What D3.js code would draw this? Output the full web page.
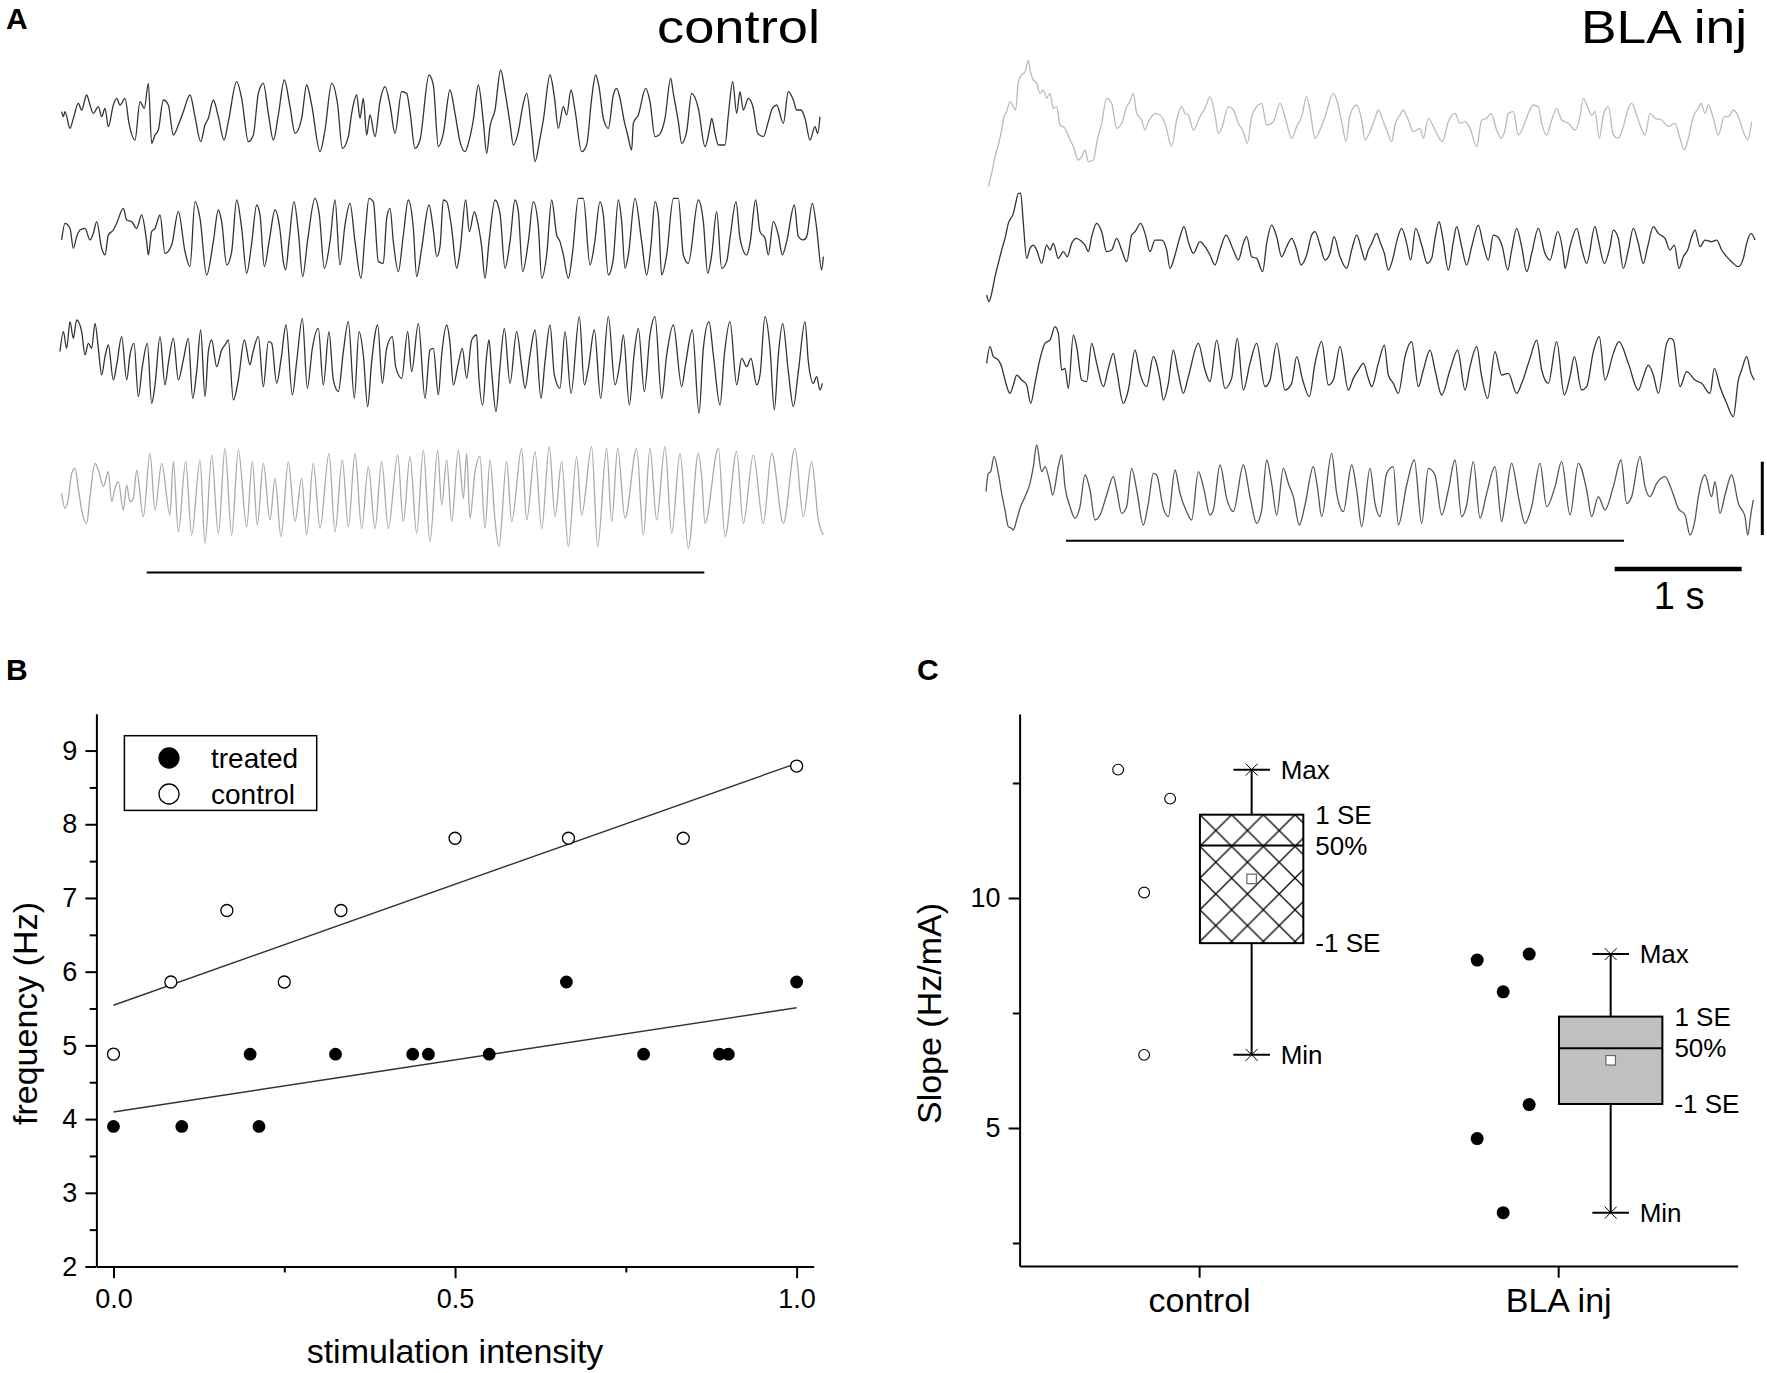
<!DOCTYPE html>
<html><head><meta charset="utf-8">
<script src="https://cdn.jsdelivr.net/npm/d3@7"></script>
<style>
body{margin:0;background:#fff}
svg{display:block}
text{font-family:"Liberation Sans",Arial,Helvetica,sans-serif}
</style></head>
<body><svg id="chart" width="1767" height="1373"></svg>
<script>
// ---------------- DATA ----------------
const FS = 381;               // samples per second of the traces
const SCALE_BAR_UNITS = 220;  // amplitude of the vertical scale bar (trace units)
// traces: flat [sample, amplitude, sample, amplitude, ...]
const ctrlTrace1 = [20,10,25,-5,30,10,45,-40,55,-10,70,35,80,15,95,60,105,30,115,5,130,25,140,-5,150,20,160,-35,175,30,185,50,195,30,210,50,222,-25,240,-75,255,40,268,20,280,95,290,-85,300,-60,310,-45,325,45,340,30,355,-60,370,-30,385,10,405,60,420,-5,437,-80,450,-30,460,-10,475,45,490,-5,507,-75,520,-20,545,100,560,50,580,-80,595,-60,610,65,625,95,640,5,655,-75,670,0,688,105,705,25,720,-55,740,-10,755,90,770,30,795,-110,810,-45,830,95,848,30,862,-100,880,-65,890,5,905,60,915,-10,925,50,935,-60,945,0,960,-65,975,40,990,85,1005,30,1020,-55,1040,70,1055,65,1065,10,1080,-100,1095,-75,1122,120,1135,90,1150,-95,1165,-55,1185,75,1200,5,1215,-80,1230,-110,1240,-85,1255,-15,1270,90,1285,-20,1295,-115,1305,-35,1320,15,1337,135,1350,70,1365,-25,1375,-90,1390,-50,1402,20,1415,65,1430,-50,1440,-140,1455,-70,1465,-15,1485,120,1498,55,1510,-40,1525,25,1535,0,1548,75,1560,15,1580,-110,1595,-90,1610,50,1622,120,1632,85,1645,-10,1660,-40,1675,60,1685,80,1695,50,1708,-20,1718,-60,1730,-105,1735,-25,1750,0,1772,80,1785,40,1800,-65,1812,-60,1830,-10,1847,110,1855,65,1870,-20,1880,-85,1895,-50,1910,65,1930,20,1950,-95,1965,-35,1970,-10,1980,-55,1990,-90,2010,-90,2020,0,2033,100,2045,5,2055,70,2065,15,2080,50,2095,20,2108,-55,2125,-65,2140,-20,2152,20,2165,30,2185,-25,2200,70,2215,45,2225,15,2238,15,2250,-10,2265,-75,2280,-35,2288,-55,2295,-5];
const ctrlTrace2 = [20,-5,30,45,45,30,55,-30,65,5,75,25,90,30,105,-5,115,15,125,50,140,-30,150,-50,160,10,175,25,185,45,205,90,215,55,230,50,245,30,260,70,275,-10,280,-50,290,20,300,30,315,70,330,-45,350,-20,370,80,390,-40,405,-85,420,110,435,60,455,-110,475,-10,490,85,500,50,515,-80,530,-40,545,115,560,30,575,-105,590,-15,605,100,615,70,628,-85,643,-5,660,85,675,25,685,-70,692,-95,702,-10,717,110,730,20,743,-115,758,-5,780,120,793,70,808,-90,825,-10,840,115,855,-80,870,40,885,105,900,-10,918,-120,930,10,942,120,955,110,970,-70,985,-75,995,60,1005,90,1015,-10,1030,-100,1045,10,1060,115,1075,30,1085,-115,1100,-30,1122,100,1135,25,1145,-55,1155,-25,1165,115,1175,110,1190,30,1205,-90,1215,-40,1232,115,1243,20,1258,80,1265,60,1280,-25,1290,-120,1302,-10,1320,115,1335,75,1350,-90,1365,-10,1380,115,1390,80,1403,-100,1420,-10,1435,110,1450,35,1460,-120,1475,-50,1490,115,1505,10,1515,-10,1525,-50,1540,-120,1553,-40,1570,120,1585,120,1605,-80,1618,-20,1635,110,1645,70,1660,-110,1675,-60,1690,115,1700,50,1710,-90,1720,-50,1740,120,1760,-10,1775,-110,1788,-20,1800,110,1810,70,1820,-110,1835,-50,1855,120,1870,120,1885,-50,1900,-75,1930,115,1945,50,1958,-105,1970,-50,1985,80,2000,-90,2015,-70,2025,0,2043,110,2055,0,2075,-50,2085,-15,2102,115,2115,20,2130,0,2140,-50,2155,50,2170,10,2182,-50,2195,-10,2218,100,2230,5,2245,-5,2255,5,2272,105,2285,30,2300,-95,2305,-55];
const ctrlTrace3 = [15,35,25,95,35,45,45,125,55,75,65,130,80,95,90,25,100,60,110,45,120,120,130,45,140,-35,150,20,160,55,175,-50,185,-5,200,80,215,-50,225,25,237,60,250,-100,262,-10,277,60,290,-120,300,-65,315,80,330,-65,340,0,355,75,370,-50,385,10,400,75,413,-105,425,-25,437,100,450,-100,460,35,470,70,485,-10,500,40,510,55,520,70,535,-110,550,-50,568,70,585,-5,592,25,610,80,625,-70,640,65,650,60,665,-60,678,10,693,115,712,-95,725,5,742,135,757,-75,772,45,790,105,805,-65,822,95,835,-50,850,-85,865,35,880,125,898,-105,912,95,925,25,938,-130,950,5,968,115,982,-60,995,45,1012,80,1022,-10,1040,-45,1058,95,1070,-25,1090,120,1110,-105,1125,40,1135,45,1150,-95,1160,25,1175,115,1185,60,1195,-65,1210,0,1222,45,1235,-45,1250,70,1265,85,1270,-15,1283,-125,1295,25,1302,70,1310,-25,1323,-145,1335,-10,1348,105,1365,-60,1385,95,1400,-10,1410,-75,1425,25,1440,100,1458,-105,1470,5,1485,115,1498,-35,1515,-75,1530,95,1548,-90,1573,140,1588,-65,1600,-15,1618,100,1637,-105,1660,140,1680,-65,1695,5,1705,85,1723,-125,1737,25,1750,105,1768,-85,1785,85,1800,140,1820,-105,1835,25,1855,115,1880,-70,1892,0,1912,100,1932,-150,1945,45,1962,125,1975,25,1995,-125,2008,25,2025,125,2045,-65,2060,15,2075,-10,2088,15,2105,-65,2115,-35,2130,140,2145,45,2158,-140,2170,25,2183,120,2200,-25,2215,-130,2230,-25,2250,125,2260,5,2275,-60,2285,-40,2295,-80,2302,-60];
const ctrlTrace4 = [20,10,30,-35,40,-5,50,70,60,85,70,25,80,-40,95,-80,105,0,120,100,130,80,145,30,160,75,170,-15,180,25,190,45,205,-40,215,35,225,-15,235,-5,245,80,265,-60,285,130,300,-40,320,100,345,-55,355,105,370,-105,392,105,410,-115,435,110,450,-140,470,125,490,-110,510,145,530,-115,550,140,575,-90,592,105,607,-85,625,100,645,-70,660,55,678,-120,700,105,720,-75,740,55,755,-115,775,100,795,-95,822,130,840,-105,862,110,880,-90,900,130,920,-95,940,90,960,-95,980,105,1000,-95,1028,125,1045,-75,1065,120,1085,-110,1105,140,1125,-135,1148,140,1160,-25,1175,110,1190,-75,1210,140,1225,-5,1235,130,1245,-65,1260,75,1275,120,1290,-95,1305,110,1320,-70,1332,-150,1355,105,1370,-75,1400,145,1415,-70,1440,135,1460,-95,1483,150,1500,-60,1520,105,1540,-150,1565,120,1580,-55,1610,150,1628,-150,1655,145,1670,-75,1688,145,1710,-65,1745,145,1765,-115,1785,145,1805,-70,1830,150,1850,-110,1875,130,1900,-155,1930,130,1940,60,1950,-80,1990,145,2010,-120,2045,135,2065,-80,2095,125,2125,-80,2150,130,2185,-80,2220,145,2245,-60,2270,105,2290,-70,2305,-115];
const blaTrace1 = [25,-200,35,-160,45,-110,55,-75,65,-30,72,10,80,25,90,55,100,40,107,30,115,115,125,135,135,145,145,180,150,150,160,120,170,110,180,80,190,90,200,65,210,80,220,35,230,40,240,-15,255,-25,268,-55,280,-80,295,-120,305,-110,315,-90,325,-125,340,-120,352,-60,365,-10,380,65,395,50,410,-25,425,-10,440,40,450,55,460,80,470,20,485,0,495,-30,505,-5,515,10,525,20,540,15,555,-10,575,-80,590,0,605,40,615,20,625,15,640,-30,660,10,675,35,690,70,705,15,715,-40,725,-25,745,40,760,30,775,-10,790,-35,802,-70,815,10,830,40,845,50,860,-15,880,-5,900,50,915,10,935,-55,950,-20,965,10,980,70,990,30,1005,-55,1020,-30,1035,10,1060,80,1070,60,1085,-5,1098,-65,1110,15,1130,45,1145,0,1155,-60,1170,-35,1185,5,1195,30,1210,-5,1220,-30,1235,-65,1245,-15,1260,15,1270,30,1285,0,1300,-35,1320,-25,1330,-55,1345,5,1365,-30,1387,-65,1405,-5,1425,20,1440,-10,1455,-5,1470,-25,1490,-80,1505,0,1520,5,1533,20,1550,-30,1563,-55,1575,-30,1585,20,1600,25,1615,-45,1630,-20,1645,20,1660,45,1675,40,1685,-10,1700,-45,1715,0,1730,35,1745,0,1765,-10,1785,-30,1800,10,1810,65,1820,45,1835,15,1845,25,1858,-55,1870,15,1885,40,1900,-45,1915,-55,1930,-20,1945,35,1955,50,1970,15,1980,-15,1995,-45,2010,20,2025,5,2045,0,2065,-20,2085,-10,2100,-55,2113,-90,2125,-55,2140,10,2155,35,2163,50,2175,20,2185,45,2200,5,2215,-45,2233,10,2245,10,2260,30,2275,10,2290,-35,2303,-60,2315,-5];
const blaTrace2 = [20,-145,27,-165,35,-140,45,-90,55,-50,65,-10,75,25,85,70,100,100,108,135,115,160,122,160,130,70,140,-35,150,-5,160,5,170,-10,185,-50,200,5,210,-10,220,10,235,-35,250,-15,262,-30,275,10,290,25,305,15,315,5,325,-15,335,30,350,70,365,45,380,-15,395,-10,410,25,425,-10,440,-45,455,35,465,45,482,70,495,40,510,-15,525,20,545,20,560,-10,570,-65,585,-25,600,30,612,60,625,15,640,-20,660,15,675,0,690,-25,705,-55,720,-10,738,35,760,-10,775,-40,790,10,800,30,815,-30,830,-35,848,-75,860,10,875,65,890,30,905,-30,920,0,935,25,950,-10,963,-55,980,-25,995,35,1005,45,1020,5,1035,-40,1050,-20,1062,30,1080,-30,1100,-65,1115,-10,1130,35,1145,-10,1155,-40,1165,-10,1175,10,1190,40,1200,15,1213,-20,1225,-70,1240,-30,1250,15,1265,55,1280,10,1292,-40,1307,55,1325,5,1342,-50,1355,-35,1365,25,1377,75,1387,35,1405,-70,1420,15,1430,60,1445,0,1460,-55,1475,0,1495,65,1510,5,1525,-40,1540,35,1553,30,1567,0,1583,-70,1595,-10,1610,55,1625,0,1640,-75,1655,-20,1675,55,1695,-20,1710,-40,1733,45,1750,-25,1755,-65,1770,0,1790,55,1805,-5,1820,-50,1845,60,1855,20,1873,-50,1890,0,1900,50,1915,25,1930,-65,1945,-10,1960,55,1975,10,1990,-50,2003,0,2020,60,2035,40,2055,25,2070,-10,2083,5,2097,-65,2110,-30,2123,-10,2135,30,2145,50,2160,0,2175,20,2195,15,2210,20,2225,-10,2240,-30,2255,-45,2275,-60,2290,-35,2300,10,2313,40,2325,20];
const blaTrace3 = [20,10,30,60,40,30,55,20,65,0,75,-40,90,-80,100,-55,110,-25,125,-40,140,-55,152,-110,165,-50,178,15,195,70,210,80,225,120,235,100,245,-10,255,-5,265,-65,280,95,290,60,305,-40,320,-45,335,70,350,10,370,-60,385,-5,400,40,410,-10,430,-110,445,-70,465,50,480,-20,500,-60,520,30,540,-40,550,-100,565,-50,580,50,595,-20,610,-80,625,-30,655,70,675,-10,690,-45,710,80,735,-65,755,-35,772,85,790,-70,810,10,830,70,855,-60,870,-40,890,70,915,-70,935,-50,950,30,968,-40,988,-90,1005,10,1025,75,1045,-55,1060,-40,1080,60,1105,-70,1120,-35,1135,-10,1150,10,1165,-35,1175,-60,1195,10,1213,65,1225,-25,1240,-50,1255,-80,1275,30,1295,75,1315,-60,1330,-10,1350,50,1365,-10,1385,-85,1410,-10,1433,50,1455,-70,1470,0,1490,60,1505,-30,1523,-95,1545,45,1565,-25,1585,-20,1610,-80,1625,-50,1650,25,1670,80,1685,-10,1705,-50,1730,75,1753,-85,1770,-30,1783,30,1805,-70,1820,-60,1840,45,1858,90,1875,-40,1900,40,1917,75,1945,10,1975,-70,1990,-30,2005,5,2020,-25,2035,-80,2060,70,2070,85,2080,80,2100,-60,2120,-15,2145,-40,2165,-50,2190,-80,2203,-5,2220,-60,2240,-110,2260,-150,2275,-40,2285,-10,2300,30,2313,-20,2323,-40];
const blaTrace4 = [18,-5,25,50,32,55,42,100,55,50,65,-10,75,-60,85,-110,95,-115,100,-120,110,-90,120,-55,135,-20,150,20,160,70,170,135,185,55,195,70,210,20,218,-15,235,70,245,105,255,10,270,-50,285,-85,300,-50,315,45,330,0,345,-90,360,-75,380,-15,400,40,410,0,425,-70,440,-50,455,65,470,0,490,-105,505,-40,520,50,530,45,550,-55,565,-80,585,60,600,-10,620,-65,635,-90,655,55,670,10,690,-75,700,-60,720,75,740,-25,760,-65,790,75,810,-20,830,-100,845,-60,860,90,875,20,890,-75,910,65,925,20,940,-20,958,-105,975,-45,1000,70,1012,10,1025,-80,1055,110,1070,-10,1090,-65,1115,75,1130,0,1145,-110,1170,65,1185,-40,1200,-80,1220,50,1240,70,1255,-105,1280,15,1303,90,1325,-100,1345,65,1365,45,1385,-75,1405,0,1425,90,1445,-80,1460,-45,1480,85,1500,-85,1520,-10,1545,70,1565,-95,1575,-40,1595,80,1617,-30,1635,-100,1655,-50,1680,80,1700,-50,1725,10,1745,85,1770,-75,1795,80,1820,0,1835,-80,1855,-20,1875,-60,1900,10,1923,90,1940,-40,1955,-20,1980,100,1995,10,2010,-20,2030,20,2055,40,2075,0,2095,-55,2115,-75,2130,-135,2145,-90,2155,-20,2175,45,2195,-20,2205,25,2220,-70,2235,-15,2255,45,2275,-40,2295,-80,2303,-135,2313,-70,2320,-30];
const stimCtrl = [275, 1948];   // stimulation period (samples)
const stimBLA  = [258, 1932];
const timeBarStart = 1904;      // samples

// Panel B
const intensityTreated = [0, 0.1, 0.2, 0.213, 0.325, 0.438, 0.461, 0.55, 0.663, 0.776, 0.887, 0.9, 1.0];
const freqTreated      = [3.9, 3.9, 4.88, 3.9, 4.88, 4.88, 4.88, 4.88, 5.86, 4.88, 4.88, 4.88, 5.86];
const intensityControl = [0, 0.084, 0.166, 0.25, 0.333, 0.5, 0.666, 0.834, 1.0];
const freqControl      = [4.88, 5.86, 6.83, 5.86, 6.83, 7.81, 7.81, 7.81, 8.79];
const freqTicks = [2, 3, 4, 5, 6, 7, 8, 9];
const freqMinorTicks = [2.5, 3.5, 4.5, 5.5, 6.5, 7.5, 8.5];
const intensityTicks = [0, 0.5, 1.0];
const intensityMinorTicks = [0.25, 0.75];
const fitRange = [0, 1];
const legendLabels = ["treated", "control"];

// Panel C
const groups = ["control", "BLA inj"];
const slopeControl = [12.79, 12.16, 10.12, 6.59];
const slopeBLA     = [8.65, 8.78, 7.96, 5.51, 4.77, 3.16];
const columnControl = [0, 2, 1, 1];
const columnBLA     = [0, 2, 1, 2, 0, 1];
const slopeTicks = [5, 10];
const slopeMinorTicks = [2.5, 7.5, 12.5];

// ---------------- DRAWING ----------------
const svg = d3.select("#chart");
const defs = svg.append("defs");
function pairs(a){const o=[];for(let i=0;i<a.length;i+=2)o.push([a[i],a[i+1]]);return o;}

// Panel A
const PX_PER_S = 127, BAR_PX = 73.3;
const panelsA = [
  {x0:55, stim:stimCtrl, stimY:572.5,
   traces:[[ctrlTrace1,115,"#333"],[ctrlTrace2,238.3,"#333"],[ctrlTrace3,363.3,"#333"],[ctrlTrace4,496.7,"#aaa"]]},
  {x0:980, stim:stimBLA, stimY:540.7,
   traces:[[blaTrace1,120,"#bbb"],[blaTrace2,246.7,"#333"],[blaTrace3,366.7,"#333"],[blaTrace4,490,"#555"]]}
];
const gA = svg.append("g");
panelsA.forEach((p,pi)=>{
  const xs = d3.scaleLinear().domain([0,FS]).range([p.x0,p.x0+PX_PER_S]);
  p.xs = xs;
  p.traces.forEach(([data,base,color])=>{
    const ys = d3.scaleLinear().domain([0,SCALE_BAR_UNITS]).range([base,base-BAR_PX]);
    gA.append("path").datum(pairs(data))
      .attr("d", d3.line().curve(d3.curveMonotoneX).x(d=>xs(d[0])).y(d=>ys(d[1])))
      .attr("fill","none").attr("stroke",color).attr("stroke-width",1.3)
      .attr("stroke-linejoin","round");
  });
  gA.append("line").attr("x1",xs(p.stim[0])).attr("x2",xs(p.stim[1]))
    .attr("y1",p.stimY).attr("y2",p.stimY).attr("stroke","#000").attr("stroke-width",2);
});
// scale bars
{
  const xs = panelsA[1].xs;
  const ysb = d3.scaleLinear().domain([0,SCALE_BAR_UNITS]).range([535,535-BAR_PX]);
  gA.append("line").attr("x1",1762.3).attr("x2",1762.3).attr("y1",ysb(0)).attr("y2",ysb(SCALE_BAR_UNITS))
    .attr("stroke","#000").attr("stroke-width",3);
  gA.append("line").attr("x1",xs(timeBarStart)).attr("x2",xs(timeBarStart+FS)).attr("y1",569).attr("y2",569)
    .attr("stroke","#000").attr("stroke-width",4.5);
  gA.append("text").attr("x",(xs(timeBarStart)+xs(timeBarStart+FS))/2+1).attr("y",609)
    .attr("text-anchor","middle").attr("font-size",38).text("1 s");
}
gA.append("text").attr("x",657).attr("y",43).attr("font-size",47)
  .attr("textLength",163).attr("lengthAdjust","spacingAndGlyphs").text("control");
gA.append("text").attr("x",1581).attr("y",43).attr("font-size",47)
  .attr("textLength",166).attr("lengthAdjust","spacingAndGlyphs").text("BLA inj");

// panel letters
[["A",6,29],["B",6,680],["C",917,680]].forEach(([t,x,y])=>{
  svg.append("text").attr("x",x).attr("y",y).attr("font-size",30).attr("font-weight","bold").text(t);
});

function styleAxis(g, fs){
  g.selectAll("path.domain").attr("stroke","#000").attr("stroke-width",2);
  g.selectAll(".tick line").attr("stroke","#000").attr("stroke-width",2);
  g.selectAll(".tick text").attr("font-size",fs).attr("fill","#000")
    .attr("font-family",'"Liberation Sans",Arial,sans-serif');
}

// Panel B
const xB = d3.scaleLinear().domain([-0.025,1.025]).range([96.4,813.7]);
const yB = d3.scaleLinear().domain([2,9.5]).range([1266.5,713.7]);
const gB = svg.append("g");
const axBx = gB.append("g").attr("transform","translate(0,1266.5)")
  .call(d3.axisBottom(xB).tickValues(intensityTicks).tickFormat(d3.format(".1f")).tickSize(11.7).tickSizeOuter(0).tickPadding(11));
styleAxis(axBx,27);
const axBxm = gB.append("g").attr("transform","translate(0,1266.5)")
  .call(d3.axisBottom(xB).tickValues(intensityMinorTicks).tickFormat("").tickSize(6));
axBxm.select("path.domain").remove(); styleAxis(axBxm,27);
const axBy = gB.append("g").attr("transform","translate(96.4,0)")
  .call(d3.axisLeft(yB).tickValues(freqTicks).tickFormat(d3.format("d")).tickSize(11).tickSizeOuter(0).tickPadding(8));
styleAxis(axBy,27);
const axBym = gB.append("g").attr("transform","translate(96.4,0)")
  .call(d3.axisLeft(yB).tickValues(freqMinorTicks).tickFormat("").tickSize(6.7));
axBym.select("path.domain").remove(); styleAxis(axBym,27);

function linfit(xs, ys){
  const mx=d3.mean(xs), my=d3.mean(ys);
  let sxy=0,sxx=0; xs.forEach((x,i)=>{sxy+=(x-mx)*(ys[i]-my);sxx+=(x-mx)*(x-mx);});
  const b=sxy/sxx; return {a:my-b*mx,b};
}
[[intensityControl,freqControl],[intensityTreated,freqTreated]].forEach(([xs,ys])=>{
  const f=linfit(xs,ys);
  gB.append("line").attr("x1",xB(fitRange[0])).attr("y1",yB(f.a+f.b*fitRange[0]))
    .attr("x2",xB(fitRange[1])).attr("y2",yB(f.a+f.b*fitRange[1]))
    .attr("stroke","#333").attr("stroke-width",1.4);
});
gB.selectAll("circle.tr").data(intensityTreated).enter().append("circle")
  .attr("cx",d=>xB(d)).attr("cy",(d,i)=>yB(freqTreated[i])).attr("r",6.4).attr("fill","#000");
gB.selectAll("circle.ct").data(intensityControl).enter().append("circle")
  .attr("cx",d=>xB(d)).attr("cy",(d,i)=>yB(freqControl[i])).attr("r",6).attr("fill","#fff")
  .attr("stroke","#000").attr("stroke-width",1.3);
// legend
gB.append("rect").attr("x",124.4).attr("y",735.7).attr("width",192.3).attr("height",74.7)
  .attr("fill","#fff").attr("stroke","#000").attr("stroke-width",1.5);
legendLabels.forEach((lab,i)=>{
  const cy = 758 + i*36;
  gB.append("circle").attr("cx",169).attr("cy",cy).attr("r",10)
    .attr("fill", i===0?"#000":"#fff").attr("stroke","#000").attr("stroke-width",1.3);
  gB.append("text").attr("x",211).attr("y",cy+10).attr("font-size",28).text(lab);
});
gB.append("text").attr("x",455).attr("y",1363).attr("text-anchor","middle").attr("font-size",34).text("stimulation intensity");
gB.append("text").attr("transform","translate(36.5,1013.5) rotate(-90)").attr("text-anchor","middle").attr("font-size",34).text("frequency (Hz)");

// Panel C
const xC = d3.scalePoint().domain(groups).range([1019.6,1737.7]).padding(0.5);
const yC = d3.scaleLinear().domain([2,14]).range([1266,714]);
const gC = svg.append("g");
const axCx = gC.append("g").attr("transform","translate(0,1266)")
  .call(d3.axisBottom(xC).tickSize(11.7).tickSizeOuter(0).tickPadding(10));
styleAxis(axCx,34);
const axCy = gC.append("g").attr("transform","translate(1019.6,0)")
  .call(d3.axisLeft(yC).tickValues(slopeTicks).tickFormat(d3.format("d")).tickSize(11).tickSizeOuter(0).tickPadding(8));
styleAxis(axCy,27);
const axCym = gC.append("g").attr("transform","translate(1019.6,0)")
  .call(d3.axisLeft(yC).tickValues(slopeMinorTicks).tickFormat("").tickSize(6.7));
axCym.select("path.domain").remove(); styleAxis(axCym,27);
gC.append("text").attr("transform","translate(941,1013.5) rotate(-90)").attr("text-anchor","middle").attr("font-size",34).text("Slope (Hz/mA)");

const BOX_OFFSET = 52.5, BOX_HALF = 51.7, CAP_HALF = 18.3, COL_STEP = 26, COL0 = -81;
function stats(v){
  const s=v.slice().sort(d3.ascending), n=v.length, m=d3.mean(v);
  const se=d3.deviation(v)/Math.sqrt(n);
  return {mean:m, lo:m-se, hi:m+se, med:d3.median(s), min:d3.min(s), max:d3.max(s)};
}
const pat = defs.append("pattern").attr("id","xhatch").attr("patternUnits","userSpaceOnUse")
  .attr("width",31.7).attr("height",31.7);
pat.append("rect").attr("width",31.7).attr("height",31.7).attr("fill","#fff");
pat.append("path").attr("d","M0,0L31.7,31.7M31.7,0L0,31.7").attr("stroke","#000").attr("stroke-width",1.3);

[[slopeControl,columnControl,"url(#xhatch)",false],[slopeBLA,columnBLA,"#c0c0c0",true]].forEach(([vals,cols,fill,filled],gi)=>{
  const cx = xC(groups[gi]);
  const st = stats(vals);
  const bx = cx + BOX_OFFSET;
  if(gi===0) pat.attr("x",bx-BOX_HALF).attr("y",yC(st.hi));
  gC.append("line").attr("x1",bx).attr("x2",bx).attr("y1",yC(st.max)).attr("y2",yC(st.min)).attr("stroke","#000").attr("stroke-width",2);
  [st.max,st.min].forEach(v=>{
    const y=yC(v);
    gC.append("line").attr("x1",bx-CAP_HALF).attr("x2",bx+CAP_HALF).attr("y1",y).attr("y2",y).attr("stroke","#000").attr("stroke-width",2);
    gC.append("path").attr("d",`M${bx-6},${y-6}L${bx+6},${y+6}M${bx-6},${y+6}L${bx+6},${y-6}`).attr("stroke","#000").attr("stroke-width",1);
  });
  gC.append("rect").attr("x",bx-BOX_HALF).attr("y",yC(st.hi)).attr("width",2*BOX_HALF).attr("height",yC(st.lo)-yC(st.hi))
    .attr("fill",fill).attr("stroke","#000").attr("stroke-width",2);
  gC.append("line").attr("x1",bx-BOX_HALF).attr("x2",bx+BOX_HALF).attr("y1",yC(st.med)).attr("y2",yC(st.med)).attr("stroke","#000").attr("stroke-width",2);
  gC.append("rect").attr("x",bx-4.75).attr("y",yC(st.mean)-4.75).attr("width",9.5).attr("height",9.5)
    .attr("fill","#fff").attr("stroke","#666").attr("stroke-width",1.2);
  const lab = [["Max",st.max,bx+29],["1 SE",st.hi,bx+BOX_HALF+12],["50%",st.med,bx+BOX_HALF+12],["-1 SE",st.lo,bx+BOX_HALF+12],["Min",st.min,bx+29]];
  lab.forEach(([t,v,x])=>{
    gC.append("text").attr("x",x).attr("y",yC(v)+9.3).attr("font-size",26).text(t);
  });
  vals.forEach((v,i)=>{
    gC.append("circle").attr("cx",cx+COL0+cols[i]*COL_STEP).attr("cy",yC(v))
      .attr("r",filled?6.5:5.4).attr("fill",filled?"#000":"#fff")
      .attr("stroke","#000").attr("stroke-width",filled?0:1.1);
  });
});
</script>
</body></html>
